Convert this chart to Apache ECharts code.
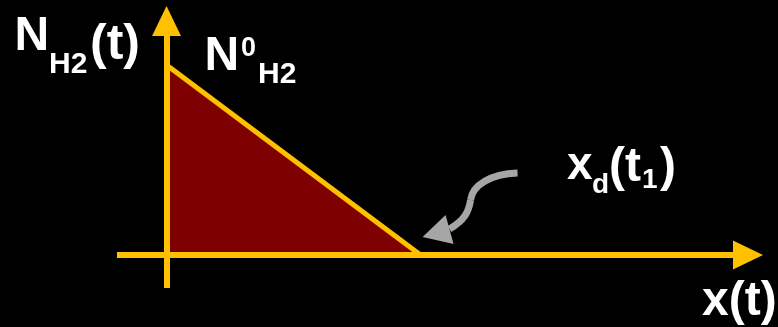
<!DOCTYPE html>
<html>
<head>
<meta charset="utf-8">
<script src="https://cdn.jsdelivr.net/npm/echarts@6/dist/echarts.min.js"></script>
<style>
  html, body { margin: 0; padding: 0; background: #000; }
  #chart { width: 778px; height: 327px; }
</style>
</head>
<body>
<div id="chart"></div>
<script>
// Hydrogen profile: N_H2 falls linearly from N0_H2 at the surface to zero at the front x_d(t1)
const depthPoints = [0, 1.0];      // x(t): surface, depletion front x_d(t1)
const hydrogenValues = [1.0, 0];   // N_H2(t): N0_H2 at the surface, zero at the front

const YELLOW = '#ffc000';
const FILL = '#7f0000';
const GREY = '#a6a6a6';
const FONT = '"Liberation Sans", Arial, Helvetica, sans-serif';

const chart = echarts.init(document.getElementById('chart'), null, { renderer: 'canvas' });

const axisLine = {
  show: true,
  onZero: true,
  symbol: ['none', 'triangle'],
  symbolSize: [29, 30],
  lineStyle: { color: YELLOW, width: 6, cap: 'butt' }
};

chart.setOption({
  backgroundColor: '#000',
  animation: false,
  grid: { left: 117, right: 30, top: 21, bottom: 39, containLabel: false },
  xAxis: {
    type: 'value', min: -0.195, max: 2.289, z: 5,
    axisLine: axisLine, axisTick: { show: false }, axisLabel: { show: false },
    splitLine: { show: false }
  },
  yAxis: {
    type: 'value', min: -0.174, max: 1.232, z: 5,
    axisLine: axisLine, axisTick: { show: false }, axisLabel: { show: false },
    splitLine: { show: false }
  },
  series: [{
    type: 'line',
    data: depthPoints.map((x, i) => [x, hydrogenValues[i]]),
    showSymbol: false,
    silent: true,
    z: 2,
    lineStyle: { color: YELLOW, width: 5, cap: 'butt' },
    areaStyle: { color: FILL, opacity: 1 }
  }]
});

// One text run placed by its left edge and alphabetic baseline
function run(text, x, baseline, size) {
  return {
    type: 'text', silent: true, z: 10,
    x: x, y: baseline - 0.3465 * size,
    style: {
      text: text, fill: '#ffffff',
      font: 'bold ' + size + 'px ' + FONT,
      align: 'left', verticalAlign: 'middle'
    }
  };
}

// Curved grey pointer ending at the depletion front
const front = chart.convertToPixel({ gridIndex: 0 }, [depthPoints[1], hydrogenValues[1]]);
const fx = front[0], fy = front[1];
const pointerStyle = { fill: null, stroke: GREY, lineWidth: 7, lineCap: 'butt' };

chart.setOption({
  graphic: [
    // N_H2(t)
    run('N', 14.5, 53, 48),
    run('H2', 49, 75, 30),
    run('(t)', 90, 63, 50),
    // N0_H2
    run('N', 204.5, 73, 48),
    run('0', 241, 58, 27),
    run('H2', 258, 85, 30),
    // x_d(t1)
    run('x', 567, 182, 46),
    run('d', 592, 195, 28),
    run('(t', 609, 184, 48),
    run('1', 642, 190, 28),
    run(')', 660, 184, 48),
    // x(t)
    run('x(t)', 702, 318, 48),
    {
      type: 'bezierCurve', silent: true, z: 8,
      shape: {
        x1: fx + 97, y1: fy - 82,
        cpx1: fx + 70, cpy1: fy - 81,
        cpx2: fx + 52, cpy2: fy - 70,
        x2: fx + 50, y2: fy - 55
      },
      style: pointerStyle
    },
    {
      type: 'bezierCurve', silent: true, z: 8,
      shape: {
        x1: fx + 50, y1: fy - 55,
        cpx1: fx + 48, cpy1: fy - 42,
        cpx2: fx + 43, cpy2: fy - 34,
        x2: fx + 29, y2: fy - 26
      },
      style: pointerStyle
    },
    {
      type: 'polygon', silent: true, z: 8,
      shape: { points: [[fx + 2, fy - 18], [fx + 25, fy - 40], [fx + 33, fy - 11]] },
      style: { fill: GREY }
    }
  ]
});
</script>
</body>
</html>
